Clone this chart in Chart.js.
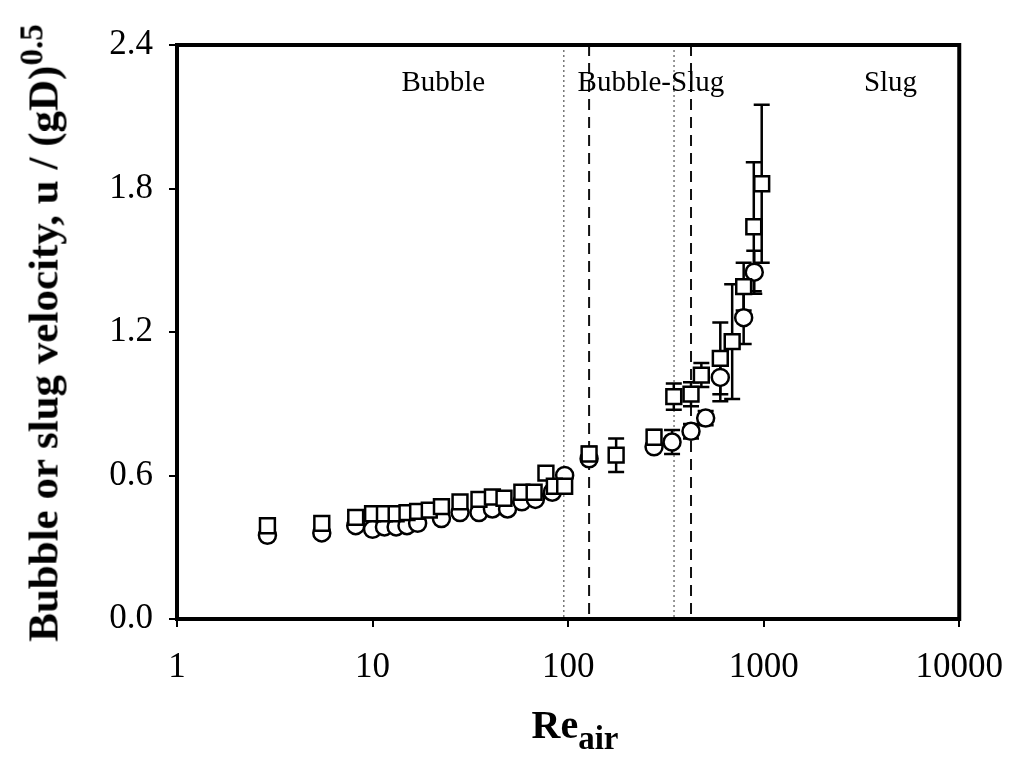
<!DOCTYPE html>
<html>
<head>
<meta charset="utf-8">
<script src="https://cdn.jsdelivr.net/npm/chart.js@4.4.0/dist/chart.umd.min.js"></script>
<style>
  html, body { margin: 0; padding: 0; background: #fff; }
  #wrap { position: relative; width: 1023px; height: 764px; }
  #yTitle {
    position: absolute; left: 43px; top: 333px;
    transform: translate(-50%, -50%) rotate(-90deg);
    white-space: nowrap;
    font: bold 43px "Liberation Serif", "Times New Roman", serif;
    color: #000;
  }
  #yTitle sup { font-size: 33px; vertical-align: 0.45em; line-height: 0; }
  #xTitle {
    position: absolute; left: 575px; top: 724px;
    transform: translate(-50%, -50%);
    white-space: nowrap;
    font: bold 40px "Liberation Serif", "Times New Roman", serif;
    color: #000;
  }
  #xTitle sub { font-size: 33px; vertical-align: -0.35em; line-height: 0; }
</style>
</head>
<body>
<div id="wrap">
  <canvas id="chart" width="1023" height="764"></canvas>
  <div id="yTitle">Bubble or slug velocity, u / (gD)<sup>0.5</sup></div>
  <div id="xTitle">Re<sub>air</sub></div>
</div>
<script>
// Re_air and dimensionless velocity
const squareRe  = [2.9, 5.5, 8.2, 10, 11.5, 13.2, 15, 17, 19.5, 22.5, 28, 35, 41, 47, 58, 67, 77, 85, 96, 128, 176, 275, 347, 425, 480, 600, 690, 790, 890, 977];
const squareU   = [0.39, 0.40, 0.425, 0.44, 0.44, 0.44, 0.445, 0.45, 0.455, 0.47, 0.49, 0.50, 0.51, 0.505, 0.53, 0.53, 0.61, 0.555, 0.555, 0.69, 0.685, 0.76, 0.93, 0.94, 1.02, 1.09, 1.16, 1.39, 1.64, 1.82];
const squareErr = [0, 0, 0, 0, 0, 0, 0, 0, 0, 0, 0, 0, 0, 0, 0, 0, 0, 0, 0, 0.03, 0.07, 0.03, 0.055, 0.05, 0.05, 0.15, 0.24, 0.10, 0.27, 0.33];

const circleRe  = [2.9, 5.5, 8.2, 10, 11.5, 13.2, 15, 17, 22.5, 28, 35, 41, 49, 58, 68, 83, 96, 128, 275, 340, 425, 505, 600, 790, 895];
const circleU   = [0.35, 0.36, 0.39, 0.375, 0.385, 0.385, 0.39, 0.40, 0.42, 0.445, 0.445, 0.46, 0.46, 0.49, 0.50, 0.53, 0.60, 0.67, 0.72, 0.74, 0.785, 0.84, 1.01, 1.26, 1.45];
const circleErr = [0, 0, 0, 0, 0, 0, 0, 0, 0, 0, 0, 0, 0, 0, 0, 0, 0, 0, 0, 0.05, 0.03, 0.03, 0.10, 0.11, 0.09];

// regime boundaries
const dottedLines = [95, 348];
const dashedLines = [128, 425];
const regimeLabels = ['Bubble', 'Bubble-Slug', 'Slug'];
const regimeLabelRe = [23, 265, 4450];
const regimeLabelU = 2.24;

const yTicks = [0, 0.6, 1.2, 1.8, 2.4];
const xTicks = [1, 10, 100, 1000, 10000];

const serif = '"Liberation Serif", "Times New Roman", serif';

function pts(xs, ys, es){
  return xs.map((x, i) => ({x: x, y: ys[i], e: es[i]}));
}

// error bars + regime lines + labels + frame
const extras = {
  id: 'extras',
  beforeDatasetsDraw(chart){
    const {ctx, chartArea: a, scales: {x, y}} = chart;
    ctx.save();
    // regime lines
    ctx.strokeStyle = '#777'; ctx.lineWidth = 1.5; ctx.setLineDash([2, 3]);
    dottedLines.forEach(v => {
      const px = x.getPixelForValue(v);
      ctx.beginPath(); ctx.moveTo(px, a.top); ctx.lineTo(px, a.bottom); ctx.stroke();
    });
    ctx.strokeStyle = '#111'; ctx.lineWidth = 2; ctx.setLineDash([11, 7]);
    dashedLines.forEach(v => {
      const px = x.getPixelForValue(v);
      ctx.beginPath(); ctx.moveTo(px, a.top); ctx.lineTo(px, a.bottom); ctx.stroke();
    });
    ctx.setLineDash([]);
    // error bars
    ctx.strokeStyle = '#000'; ctx.lineWidth = 2.5;
    chart.data.datasets.forEach(ds => {
      ds.data.forEach(p => {
        if(!p.e) return;
        const px = x.getPixelForValue(p.x);
        const top = y.getPixelForValue(p.y + p.e), bot = y.getPixelForValue(p.y - p.e);
        ctx.beginPath();
        ctx.moveTo(px, top); ctx.lineTo(px, bot);
        ctx.moveTo(px - 8, top); ctx.lineTo(px + 8, top);
        ctx.moveTo(px - 8, bot); ctx.lineTo(px + 8, bot);
        ctx.stroke();
      });
    });
    // labels
    ctx.fillStyle = '#000'; ctx.font = '29px ' + serif;
    ctx.textAlign = 'center'; ctx.textBaseline = 'middle';
    regimeLabels.forEach((t, i) => {
      ctx.fillText(t, x.getPixelForValue(regimeLabelRe[i]), y.getPixelForValue(regimeLabelU));
    });
    ctx.restore();
  },
  afterDraw(chart){
    const {ctx, chartArea: a} = chart;
    ctx.save();
    ctx.strokeStyle = '#000'; ctx.lineWidth = 4;
    ctx.strokeRect(a.left, a.top, a.right - a.left, a.bottom - a.top);
    ctx.restore();
  }
};

const whiteBg = {
  id: 'whiteBg',
  beforeDraw(chart){
    const ctx = chart.ctx;
    ctx.save(); ctx.fillStyle = '#fff'; ctx.fillRect(0, 0, chart.width, chart.height); ctx.restore();
  }
};

new Chart(document.getElementById('chart'), {
  type: 'scatter',
  data: {
    datasets: [
      {
        label: 'slug / bubble (squares)',
        data: pts(squareRe, squareU, squareErr),
        pointStyle: 'rect', pointRadius: 10.5, pointHoverRadius: 10.5,
        backgroundColor: '#fff', borderColor: '#000', borderWidth: 2.5,
        order: 0
      },
      {
        label: 'circles',
        data: pts(circleRe, circleU, circleErr),
        pointStyle: 'circle', pointRadius: 8.5, pointHoverRadius: 8.5,
        backgroundColor: '#fff', borderColor: '#000', borderWidth: 2.5,
        order: 1
      }
    ]
  },
  options: {
    responsive: false,
    animation: false,
    layout: { padding: { left: 0, top: 45, right: 62, bottom: 0 } },
    plugins: { legend: { display: false }, tooltip: { enabled: false } },
    scales: {
      x: {
        type: 'logarithmic', min: 1, max: 10000,
        afterBuildTicks(s){ s.ticks = xTicks.map(v => ({value: v})); },
        afterFit(s){ s.height = 145; },
        ticks: { color: '#000', font: { family: serif, size: 35 }, padding: 20, maxRotation: 0,
                 callback: v => String(v) },
        grid: { drawOnChartArea: false, drawTicks: true, tickLength: 8, color: '#000', lineWidth: 2 },
        border: { color: '#000', width: 4 }
      },
      y: {
        min: 0, max: 2.4,
        afterBuildTicks(s){ s.ticks = yTicks.map(v => ({value: v})); },
        afterFit(s){ s.width = 177; },
        ticks: { color: '#000', font: { family: serif, size: 35 }, padding: 16,
                 callback: v => Number(v).toFixed(1) },
        grid: { drawOnChartArea: false, drawTicks: true, tickLength: 8, color: '#000', lineWidth: 2 },
        border: { color: '#000', width: 4 }
      }
    }
  },
  plugins: [whiteBg, extras]
});
</script>
</body>
</html>
